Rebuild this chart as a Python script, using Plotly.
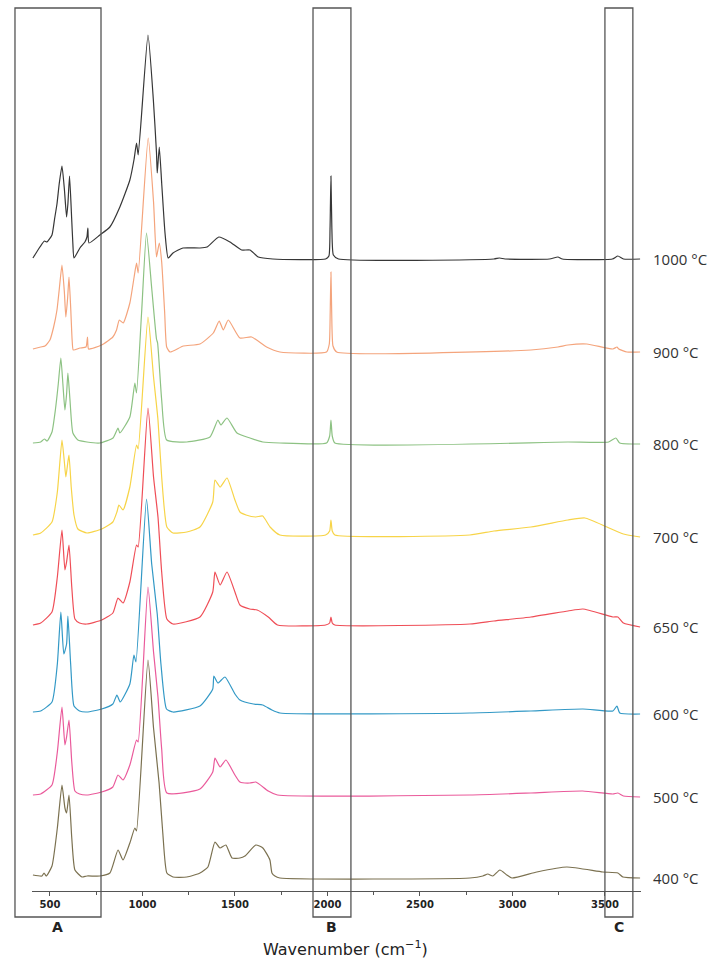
import plotly.graph_objects as go

# ---------------- data ----------------
temps = ["1000 °C", "900 °C", "800 °C", "700 °C", "650 °C", "600 °C", "500 °C", "400 °C"]

wn_1000 = [408, 446, 470, 484, 511, 525, 538, 550, 565, 578, 590, 597, 606, 617, 624, 630, 662, 689, 700, 705, 711, 770, 824, 878, 932, 955, 968, 977, 1030, 1059, 1076, 1080, 1091, 1104, 1122, 1139, 1165, 1219, 1311, 1349, 1413, 1473, 1536, 1581, 1626, 1705, 1990, 2008, 2014, 2019, 2024, 2032, 2060, 2900, 2930, 2960, 3200, 3246, 3270, 3540, 3570, 3600, 3690]
ab_1000 = [1, 12, 18, 17, 24, 40, 55, 75, 93, 70, 42, 55, 83, 42, 15, 1, 11, 17, 22, 31, 16, 24, 32, 52, 79, 100, 116, 104, 224, 159, 106, 86, 112, 76, 26, 1, 6, 11, 11, 12, 22, 17, 9, 9, 2, 0, 0, 3, 30, 83, 30, 4, 0, 0, 1, 0, 0, 2, 0, 0, 3, 0, 0]

wn_900 = [408, 450, 473, 500, 520, 538, 550, 565, 578, 586, 596, 603, 612, 620, 626, 662, 695, 703, 709, 779, 840, 860, 875, 896, 932, 955, 968, 977, 1031, 1060, 1076, 1091, 1104, 1120, 1131, 1149, 1221, 1311, 1383, 1415, 1437, 1464, 1527, 1590, 1671, 1743, 1995, 2010, 2015, 2019, 2023, 2030, 2050, 3100, 3246, 3300, 3402, 3543, 3565, 3575, 3619, 3690]
ab_900 = [3, 5, 6, 12, 25, 42, 62, 87, 60, 35, 55, 75, 45, 12, 2, 4, 5, 15, 3, 7, 15, 22, 32, 29, 49, 75, 89, 79, 214, 150, 95, 109, 90, 40, 5, 0, 6, 8, 19, 31, 22, 32, 14, 15, 5, 0, 0, 8, 40, 80, 40, 6, 0, 2, 5, 7, 8, 3, 5, 3, 0, 0]

wn_800 = [408, 450, 470, 485, 511, 530, 545, 559, 570, 581, 590, 597, 608, 624, 651, 700, 770, 841, 868, 878, 932, 959, 968, 995, 1022, 1050, 1076, 1082, 1104, 1131, 1240, 1365, 1408, 1424, 1457, 1511, 1581, 1651, 1743, 1995, 2012, 2019, 2026, 2040, 3300, 3520, 3559, 3580, 3690]
ab_800 = [1, 2, 5, 3, 12, 35, 60, 86, 60, 34, 50, 71, 45, 11, 4, 2, 1, 6, 16, 11, 27, 61, 51, 130, 211, 156, 105, 101, 44, 4, 2, 7, 24, 19, 26, 11, 6, 2, 1, 1, 8, 24, 8, 1, 2, 2, 6, 1, 0]

wn_700 = [408, 450, 511, 540, 565, 578, 586, 597, 603, 615, 630, 651, 700, 780, 840, 862, 873, 895, 932, 968, 977, 1030, 1060, 1084, 1104, 1132, 1165, 1240, 1311, 1380, 1392, 1420, 1457, 1500, 1527, 1560, 1613, 1650, 1690, 1743, 1990, 2012, 2019, 2026, 2040, 2770, 2900, 3100, 3300, 3392, 3511, 3600, 3690]
ab_700 = [2, 4, 15, 45, 97, 75, 60, 75, 82, 50, 22, 8, 4, 8, 15, 25, 32, 27, 50, 92, 88, 220, 160, 117, 60, 10, 4, 5, 10, 35, 57, 50, 59, 37, 25, 22, 20, 21, 10, 2, 2, 6, 17, 6, 2, 2, 6, 10, 17, 19, 10, 3, 0]

wn_650 = [408, 450, 511, 540, 565, 581, 590, 603, 618, 635, 660, 700, 780, 840, 868, 895, 932, 968, 977, 1030, 1060, 1084, 1104, 1132, 1165, 1311, 1380, 1392, 1420, 1457, 1500, 1527, 1580, 1620, 1680, 1730, 1990, 2012, 2019, 2026, 2040, 2770, 2900, 3100, 3300, 3381, 3543, 3570, 3600, 3690]
ab_650 = [2, 4, 15, 50, 97, 57, 65, 82, 40, 8, 4, 3, 7, 14, 29, 24, 45, 82, 80, 219, 150, 110, 55, 8, 3, 10, 35, 55, 42, 55, 35, 22, 18, 17, 10, 2, 2, 4, 10, 4, 2, 3, 6, 10, 16, 18, 10, 10, 4, 0]

wn_600 = [408, 450, 511, 540, 559, 575, 590, 597, 612, 630, 660, 700, 780, 840, 862, 880, 932, 954, 965, 1022, 1050, 1080, 1100, 1130, 1165, 1311, 1380, 1386, 1408, 1446, 1500, 1527, 1600, 1650, 1700, 1743, 2770, 3100, 3381, 3543, 3565, 3580, 3690]
ab_600 = [2, 3, 12, 50, 102, 60, 70, 98, 50, 8, 3, 2, 5, 10, 19, 12, 30, 59, 52, 215, 150, 100, 50, 5, 2, 8, 25, 38, 31, 37, 20, 14, 10, 9, 4, 1, 1, 3, 5, 3, 8, 1, 0]

wn_500 = [408, 450, 511, 540, 565, 581, 590, 603, 618, 635, 660, 700, 780, 840, 868, 895, 932, 968, 977, 1030, 1060, 1084, 1104, 1132, 1311, 1380, 1392, 1420, 1451, 1500, 1527, 1580, 1613, 1680, 1730, 2770, 3100, 3380, 3543, 3570, 3600, 3690]
ab_500 = [2, 3, 12, 45, 90, 52, 60, 77, 35, 6, 3, 2, 5, 10, 22, 17, 32, 57, 55, 210, 145, 100, 48, 4, 8, 25, 39, 30, 37, 22, 15, 14, 15, 6, 2, 2, 4, 6, 3, 4, 1, 0]

wn_400 = [408, 457, 468, 480, 511, 540, 565, 581, 590, 603, 618, 635, 673, 700, 770, 824, 868, 895, 932, 959, 968, 1030, 1060, 1090, 1110, 1132, 1165, 1240, 1311, 1354, 1392, 1419, 1451, 1484, 1527, 1554, 1613, 1651, 1689, 1700, 1716, 1743, 2770, 2840, 2867, 2894, 2932, 2970, 2997, 3132, 3294, 3489, 3570, 3597, 3690]
ab_400 = [3, 2, 5, 2, 12, 50, 93, 70, 65, 83, 40, 8, 1, 2, 2, 5, 28, 18, 35, 50, 47, 218, 150, 95, 45, 5, 1, 1, 5, 11, 36, 30, 33, 20, 20, 22, 33, 30, 18, 5, 2, 0, 0, 2, 4, 2, 8, 3, 0, 6, 11, 6, 5, 1, 0]

spectra = [(wn_1000, ab_1000), (wn_900, ab_900), (wn_800, ab_800), (wn_700, ab_700),
           (wn_650, ab_650), (wn_600, ab_600), (wn_500, ab_500), (wn_400, ab_400)]

# vertical stacking offsets (a.u.)
offsets = [632, 539, 447, 354, 264, 177, 94, 13]

x_ticks = [500, 1000, 1500, 2000, 2500, 3000, 3500]

# highlighted regions (cm-1)
region_names = ["A", "B", "C"]
region_lo = [311, 1922, 3500]
region_hi = [776, 2127, 3651]

# ---------------- styling ----------------
colors = ["#363636", "#F4A47C", "#8DC283", "#F7D448", "#EF4E57", "#3399C6", "#EA5A9B", "#7B7150"]
XR = [403, 3695]
YR = [0, 891]
FONT = "DejaVu Sans, Verdana"

fig = go.Figure()
for (wn, ab), off, col, name in zip(spectra, offsets, colors, temps):
    fig.add_trace(go.Scatter(
        x=wn, y=[off + a for a in ab], mode="lines", name=name,
        line=dict(color=col, width=1.2, shape="spline", smoothing=0.5),
        showlegend=False, hoverinfo="skip"))


def px(v):
    return (v - XR[0]) / (XR[1] - XR[0])


shapes = []
annotations = []
box_bottom = -26 / 891
box_top = 883 / 891
for nm, lo, hi in zip(region_names, region_lo, region_hi):
    shapes.append(dict(type="rect", xref="paper", yref="paper",
                       x0=px(lo), x1=px(hi), y0=box_bottom, y1=box_top,
                       line=dict(color="#555555", width=1.3), fillcolor="rgba(0,0,0,0)"))
    annotations.append(dict(text="<b>" + nm + "</b>", xref="paper", yref="paper",
                            x=px((lo + hi) / 2), y=-36 / 891, showarrow=False,
                            xanchor="center", yanchor="middle",
                            font=dict(family=FONT, size=14, color="#222222")))

for name, off in zip(temps, offsets):
    annotations.append(dict(text=name, xref="paper", yref="y", x=(651 - 32) / 609, y=off,
                            showarrow=False, xanchor="left", yanchor="middle",
                            font=dict(family="Open Sans, Noto Sans", size=15, color="#333333")))

annotations.append(dict(text="Wavenumber (cm<sup>−1</sup>)", xref="paper", yref="paper",
                        x=(345 - 32) / 609, y=-57 / 891, showarrow=False,
                        xanchor="center", yanchor="middle",
                        font=dict(family=FONT, size=16, color="#222222")))

fig.update_layout(
    width=710, height=960,
    margin=dict(l=32, r=69, t=0, b=69),
    paper_bgcolor="white", plot_bgcolor="white",
    shapes=shapes, annotations=annotations,
    xaxis=dict(range=XR, tickvals=x_ticks, ticktext=[str(t) for t in x_ticks],
               showgrid=False, zeroline=False, showline=True, linecolor="#555555", linewidth=1.2,
               ticks="outside", ticklen=4, tickcolor="#555555",
               minor=dict(dtick=250, tick0=500, ticks="outside", ticklen=3, tickcolor="#555555"),
               tickfont=dict(family=FONT, size=10, color="#222222", weight="bold")),
    yaxis=dict(range=YR, visible=False, showgrid=False, zeroline=False),
)

fig.write_html("out.html", config={"displayModeBar": False},
               post_script="document.body.style.margin='0';document.body.style.overflow='hidden';")
